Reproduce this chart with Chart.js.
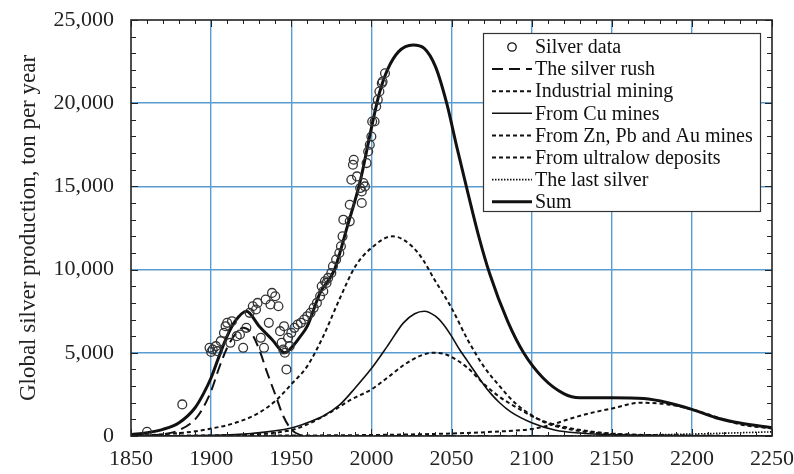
<!DOCTYPE html>
<html>
<head>
<meta charset="utf-8">
<script src="https://cdn.jsdelivr.net/npm/chart.js@4"></script>
<style>
  html, body { margin: 0; padding: 0; background: #fff; }
</style>
</head>
<body>
<canvas id="myChart" width="794" height="474"></canvas>
<script>
// Silver data (observed production, ton per year)
const dataYears = [1860, 1882, 1899, 1900, 1901, 1903, 1904, 1906, 1908, 1909, 1910, 1912, 1913, 1916, 1918, 1920, 1922, 1924, 1926, 1928, 1929, 1931, 1933, 1934, 1936, 1937, 1938, 1940, 1942, 1943, 1944, 1945, 1945.5, 1946, 1947, 1948, 1949, 1950, 1952, 1954, 1956, 1958, 1960, 1962, 1964, 1966, 1968, 1969, 1970, 1971, 1972, 1973, 1975, 1976, 1978, 1980, 1981, 1982, 1982.5, 1986.5, 1986.5, 1987.5, 1988.5, 1989, 1991, 1993, 1994, 1994, 1995, 1996, 1997, 1998, 1999, 2000, 2000.5, 2002, 2003, 2004, 2005, 2006.5, 2007, 2008.5];
const dataValues = [250, 1900, 5300, 5050, 5200, 5400, 5100, 5700, 6200, 6600, 6800, 5600, 6900, 6000, 6100, 5300, 6500, 7400, 7800, 7600, 8000, 5900, 5300, 8200, 6800, 7900, 8600, 8400, 7800, 6300, 5600, 5200, 6600, 5000, 4000, 5900, 5400, 6200, 6500, 6700, 6800, 7000, 7200, 7400, 7700, 8000, 8400, 9000, 8700, 9300, 9200, 9500, 9800, 10200, 10600, 11000, 11400, 12000, 13000, 12900, 13900, 15400, 16300, 16600, 15600, 14900, 14700, 14000, 15200, 15000, 16400, 17100, 17500, 18000, 18900, 18900, 19800, 20200, 20700, 21200, 21300, 21800];

// Model curves
const rushYears = [1850, 1870, 1880, 1890, 1895, 1900, 1905, 1910, 1915, 1920, 1925, 1930, 1935, 1940, 1945, 1950, 1955, 1960, 2250];
const rushValues = [0, 100, 350, 1000, 1700, 2700, 4100, 5300, 6100, 6500, 6200, 5200, 3800, 2500, 1200, 400, 80, 0, 0];

const industrialYears = [1850, 1870, 1890, 1900, 1910, 1920, 1930, 1940, 1950, 1960, 1970, 1980, 1990, 2000, 2013, 2020, 2030, 2040, 2050, 2060, 2070, 2080, 2090, 2100, 2110, 2120, 2130, 2150, 2200, 2250];
const industrialValues = [0, 100, 280, 450, 650, 950, 1400, 2100, 3100, 4200, 6000, 8200, 10200, 11300, 12000, 11800, 10900, 9300, 7700, 5800, 4200, 3000, 1950, 1250, 750, 480, 300, 120, 20, 0];

const cuYears = [1850, 1900, 1925, 1950, 1960, 1970, 1980, 1990, 2000, 2010, 2020, 2027, 2033, 2040, 2045, 2050, 2055, 2060, 2065, 2070, 2075, 2080, 2087, 2100, 2115, 2130, 2150, 2200, 2250];
const cuValues = [0, 40, 150, 480, 800, 1200, 1850, 2900, 4050, 5400, 6800, 7350, 7500, 7200, 6700, 6000, 5200, 4500, 3800, 3100, 2500, 2000, 1450, 800, 350, 180, 80, 10, 0];

const znYears = [1850, 1900, 1950, 1960, 1975, 1987, 2000, 2010, 2020, 2030, 2038, 2045, 2050, 2060, 2070, 2080, 2090, 2100, 2110, 2120, 2135, 2150, 2200, 2250];
const znValues = [0, 30, 350, 700, 1450, 2170, 2800, 3500, 4250, 4800, 5000, 4950, 4750, 4100, 3150, 2350, 1750, 1200, 800, 550, 300, 150, 20, 0];

const ultraYears = [1850, 1950, 2000, 2050, 2075, 2100, 2113, 2126, 2140, 2150, 2168, 2185, 2200, 2215, 2230, 2250];
const ultraValues = [0, 30, 60, 150, 250, 420, 700, 1100, 1450, 1650, 2000, 1900, 1600, 1150, 700, 450];

const lastYears = [1850, 2100, 2150, 2200, 2250];
const lastValues = [0, 0, 40, 120, 250];

const sumYears = [1850, 1860, 1870, 1880, 1890, 1895, 1900, 1905, 1910, 1915, 1922, 1930, 1938, 1946, 1950, 1955, 1960, 1968, 1977, 1985, 1993, 2000, 2005, 2010, 2017, 2026, 2033, 2040, 2047, 2053, 2060, 2067, 2074, 2085, 2095, 2107, 2120, 2130, 2150, 2170, 2185, 2200, 2215, 2230, 2250];
const sumValues = [80, 200, 400, 800, 1700, 2500, 3500, 4800, 6000, 6900, 7500, 6600, 5800, 5000, 5300, 5900, 6600, 8600, 10000, 12600, 15300, 18500, 20600, 22000, 23100, 23500, 23300, 22200, 20000, 17500, 14700, 12000, 9700, 6900, 5000, 3500, 2550, 2300, 2300, 2250, 2000, 1600, 1100, 780, 500];

const seriesLabels = ['Silver data', 'The silver rush', 'Industrial mining', 'From Cu mines',
  'From Zn, Pb and Au mines', 'From ultralow deposits', 'The last silver', 'Sum'];

const xTicks = [1850, 1900, 1950, 2000, 2050, 2100, 2150, 2200, 2250];
const yTicks = [0, 5000, 10000, 15000, 20000, 25000];

const serif = "'Liberation Serif', 'DejaVu Serif', serif";
const ink = '#111';
const gridBlue = '#5a9bd0';

function pairs(xs, ys) {
    return xs.map((x, i) => ({ x: x, y: ys[i] }));
}

function curve(label, xs, ys, width, dash) {
    return {
        label: label,
        data: pairs(xs, ys),
        borderColor: ink,
        borderWidth: width,
        borderDash: dash,
        pointRadius: 0,
        fill: false,
        cubicInterpolationMode: 'monotone'
    };
}

// Frame, inward minor ticks and boxed legend
const framePlugin = {
    id: 'frame',
    afterDatasetsDraw(chart) {
        const ctx = chart.ctx;
        const a = chart.chartArea;
        const xs = chart.scales.x;
        const ys = chart.scales.y;
        ctx.save();
        ctx.strokeStyle = '#222';
        ctx.lineWidth = 1;
        ctx.setLineDash([]);
        ctx.beginPath();
        for (let v = 0; v <= 25000; v += 1000) {
            const py = Math.round(ys.getPixelForValue(v)) + 0.5;
            const len = v % 5000 === 0 ? 7 : 5;
            ctx.moveTo(a.left, py); ctx.lineTo(a.left + len, py);
            ctx.moveTo(a.right, py); ctx.lineTo(a.right - len, py);
        }
        for (let yr = 1850; yr <= 2250; yr += 10) {
            const px = Math.round(xs.getPixelForValue(yr)) + 0.5;
            const len = yr % 50 === 0 ? 7 : 4;
            ctx.moveTo(px, a.bottom); ctx.lineTo(px, a.bottom - len);
            ctx.moveTo(px, a.top); ctx.lineTo(px, a.top + len);
        }
        ctx.stroke();
        ctx.lineWidth = 1.6;
        ctx.strokeRect(a.left, a.top, a.right - a.left, a.bottom - a.top);

        // legend
        const bx = 483, by = 33, bw = 277, bh = 178;
        ctx.fillStyle = '#fff';
        ctx.fillRect(bx, by, bw, bh);
        ctx.lineWidth = 1.2;
        ctx.strokeStyle = '#333';
        ctx.strokeRect(bx + 0.5, by + 0.5, bw, bh);
        ctx.font = '20px ' + serif;
        ctx.textBaseline = 'middle';
        ctx.textAlign = 'left';
        chart.data.datasets.forEach((ds, i) => {
            const ry = 47 + i * 22.1;
            ctx.save();
            ctx.strokeStyle = ink;
            if (ds.showLine === false) {
                ctx.lineWidth = 1.3;
                ctx.beginPath();
                ctx.arc(512, ry, 4.2, 0, Math.PI * 2);
                ctx.stroke();
            } else {
                ctx.lineWidth = ds.borderWidth;
                ctx.setLineDash(ds.borderDash || []);
                ctx.beginPath();
                ctx.moveTo(492, ry);
                ctx.lineTo(532, ry);
                ctx.stroke();
            }
            ctx.restore();
            ctx.fillStyle = '#111';
            ctx.fillText(ds.label, 535, ry + 1);
        });
        ctx.restore();
    }
};

const ctx = document.getElementById('myChart').getContext('2d');

new Chart(ctx, {
    type: 'line',
    data: {
        datasets: [
            {
                label: seriesLabels[0],
                data: pairs(dataYears, dataValues),
                showLine: false,
                pointRadius: 4.4,
                pointHoverRadius: 4.4,
                pointBorderWidth: 1.3,
                pointBorderColor: '#333',
                pointBackgroundColor: 'rgba(255,255,255,0)'
            },
            curve(seriesLabels[1], rushYears, rushValues, 2, [11, 6]),
            curve(seriesLabels[2], industrialYears, industrialValues, 2, [4, 3]),
            curve(seriesLabels[3], cuYears, cuValues, 1.6, []),
            curve(seriesLabels[4], znYears, znValues, 2, [4, 3]),
            curve(seriesLabels[5], ultraYears, ultraValues, 2, [4, 3]),
            curve(seriesLabels[6], lastYears, lastValues, 1.6, [1.5, 1.5]),
            curve(seriesLabels[7], sumYears, sumValues, 3, [])
        ]
    },
    options: {
        responsive: false,
        animation: false,
        events: [],
        layout: { padding: { left: 0, right: 22, top: 20, bottom: 0 } },
        plugins: {
            legend: { display: false },
            tooltip: { enabled: false }
        },
        scales: {
            x: {
                type: 'linear',
                min: 1850,
                max: 2250,
                afterBuildTicks: (scale) => { scale.ticks = xTicks.map(v => ({ value: v })); },
                ticks: {
                    color: '#222',
                    font: { family: serif, size: 22 },
                    padding: 10,
                    maxRotation: 0,
                    callback: (v) => String(v)
                },
                grid: {
                    drawTicks: false,
                    lineWidth: 1.4,
                    color: (c) => (c.tick && (c.tick.value === 1850 || c.tick.value === 2250)) ? 'rgba(0,0,0,0)' : gridBlue
                },
                border: { display: false },
                afterFit: (scale) => { scale.height = 38; scale.paddingLeft = 0; scale.paddingRight = 0; }
            },
            y: {
                min: 0,
                max: 25000,
                afterBuildTicks: (scale) => { scale.ticks = yTicks.map(v => ({ value: v })); },
                ticks: {
                    color: '#222',
                    font: { family: serif, size: 22 },
                    padding: 17,
                    callback: (v) => v.toLocaleString('en-US')
                },
                grid: {
                    drawTicks: false,
                    lineWidth: 1.4,
                    color: (c) => (c.tick && (c.tick.value === 0 || c.tick.value === 25000)) ? 'rgba(0,0,0,0)' : gridBlue
                },
                border: { display: false },
                title: {
                    display: true,
                    text: 'Global silver production, ton per year',
                    color: '#222',
                    font: { family: serif, size: 23 },
                    padding: { top: 15, bottom: 0 }
                },
                afterFit: (scale) => { scale.width = 131; scale.paddingTop = 0; scale.paddingBottom = 0; }
            }
        }
    },
    plugins: [framePlugin]
});
</script>
</body>
</html>
